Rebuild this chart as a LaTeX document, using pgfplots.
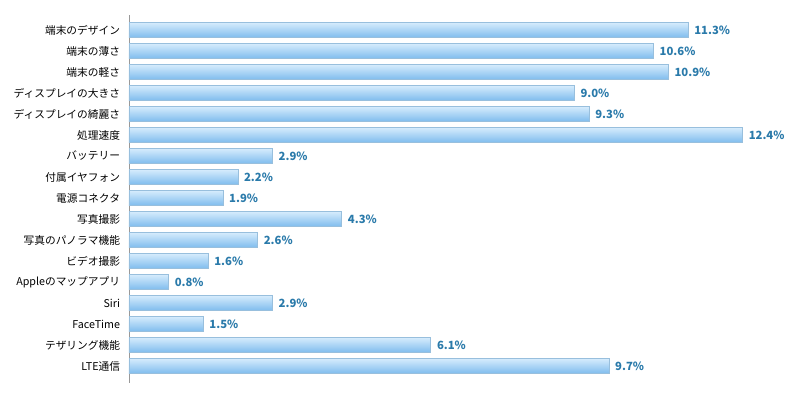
\documentclass[border=0pt]{standalone}
\usepackage{pgfplots}
\pgfplotsset{compat=1.18}
\usepackage{fontspec}
\setmainfont{Noto Sans CJK JP}
\definecolor{bartop}{HTML}{D6ECFC}
\definecolor{barbot}{HTML}{7FBCEE}
\definecolor{barline}{HTML}{98BFDD}
\definecolor{valcol}{HTML}{2A7AAA}
\pgfplotsset{mybar/.style={top color=bartop, bottom color=barbot, draw=barline, line width=0.7pt}}
\begin{document}
\begin{tikzpicture}
\begin{axis}[
  at={(129pt,9pt)}, anchor=south west,
  scale only axis, width=668pt, height=368pt,
  xmin=0, xmax=13.5,
  ymin=-0.714, ymax=16.81, y dir=reverse,
  xbar, bar width=15pt, bar shift=0pt,
  axis x line=none,
  axis y line=left,
  y axis line style={-, draw=gray!80, line width=0.8pt},
  ytick={0,...,16},
  yticklabels={端末のデザイン,端末の薄さ,端末の軽さ,ディスプレイの大きさ,ディスプレイの綺麗さ,処理速度,バッテリー,付属イヤフォン,電源コネクタ,写真撮影,写真のパノラマ機能,ビデオ撮影,Appleのマップアプリ,Siri,FaceTime,テザリング機能,LTE通信},
  major tick length=0pt,
  ytick style={draw=none},
  yticklabel style={font=\fontsize{10.7}{12}\selectfont, xshift=-5.5pt},
  point meta=explicit symbolic,
  nodes near coords,
  nodes near coords style={anchor=west, xshift=2.5pt, font=\fontsize{11.3}{13}\selectfont\bfseries, text=valcol},
]
\addplot[mybar] coordinates {(11.3,0) [11.3\%]};
\addplot[mybar] coordinates {(10.6,1) [10.6\%]};
\addplot[mybar] coordinates {(10.9,2) [10.9\%]};
\addplot[mybar] coordinates {(9.0,3) [9.0\%]};
\addplot[mybar] coordinates {(9.3,4) [9.3\%]};
\addplot[mybar] coordinates {(12.4,5) [12.4\%]};
\addplot[mybar] coordinates {(2.9,6) [2.9\%]};
\addplot[mybar] coordinates {(2.2,7) [2.2\%]};
\addplot[mybar] coordinates {(1.9,8) [1.9\%]};
\addplot[mybar] coordinates {(4.3,9) [4.3\%]};
\addplot[mybar] coordinates {(2.6,10) [2.6\%]};
\addplot[mybar] coordinates {(1.6,11) [1.6\%]};
\addplot[mybar] coordinates {(0.8,12) [0.8\%]};
\addplot[mybar] coordinates {(2.9,13) [2.9\%]};
\addplot[mybar] coordinates {(1.5,14) [1.5\%]};
\addplot[mybar] coordinates {(6.1,15) [6.1\%]};
\addplot[mybar] coordinates {(9.7,16) [9.7\%]};
\end{axis}
\pgfresetboundingbox
\path[use as bounding box] (0,0) rectangle (807pt,392pt);
\end{tikzpicture}
\end{document}
